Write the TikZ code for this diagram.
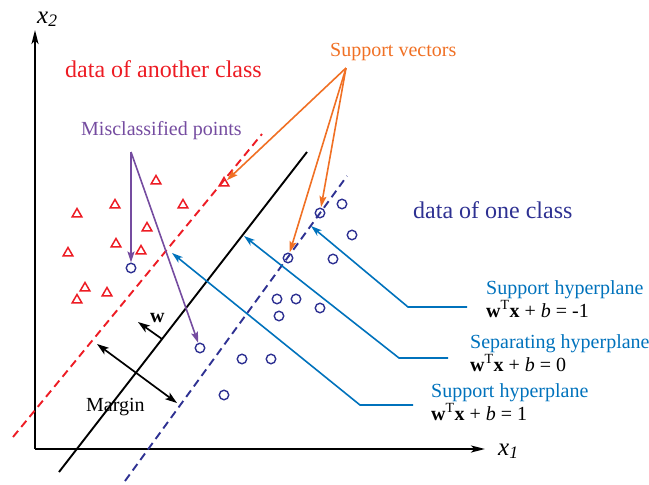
\documentclass[tikz,border=0pt]{standalone}
\usepackage{fontspec}
\setmainfont{Liberation Serif}
\usetikzlibrary{arrows.meta,shapes.geometric}
\definecolor{myred}{RGB}{237,28,36}
\definecolor{mydblue}{RGB}{46,49,146}
\definecolor{mylblue}{RGB}{0,114,188}
\definecolor{myorange}{RGB}{240,112,36}
\definecolor{mypurple}{RGB}{117,76,160}
\begin{document}
\begin{tikzpicture}[x=1pt,y=-1pt,
  txt/.style={inner sep=0pt, anchor=base west, font=\fontsize{20}{24}\selectfont},
  bigtxt/.style={inner sep=0pt, anchor=base west, font=\fontsize{24}{28}\selectfont},
  axlab/.style={inner sep=0pt, anchor=base west, font=\fontsize{25}{30}\selectfont},
  tri/.style={draw=myred, line width=1.5pt, regular polygon, regular polygon sides=3, minimum size=11pt, inner sep=0pt},
  circ/.style={draw=mydblue, line width=1.4pt, circle, minimum size=9.5pt, inner sep=0pt},
  axis/.style={line width=2.2pt, -{Stealth[length=14pt,width=7pt,inset=3.5pt]}},
  hplane/.style={line width=1.9pt},
  dashline/.style={line width=1.9pt, dash pattern=on 8pt off 5pt},
  sv/.style={myorange, line width=1.6pt, -{Stealth[length=11pt,width=7pt,inset=2pt]}, shorten >=0.5pt},
  mis/.style={mypurple, line width=1.6pt, -{Stealth[length=11pt,width=7pt,inset=2pt]}},
  lead/.style={mylblue, line width=1.6pt, -{Stealth[length=11pt,width=7pt,inset=3pt]}},
  blk/.style={black, line width=1.7pt, -{Stealth[length=12pt,width=8pt,inset=3pt]}},
  blkboth/.style={black, line width=1.7pt, {Stealth[length=12pt,width=8pt,inset=3pt]}-{Stealth[length=12pt,width=8pt,inset=3pt]}}
]
\useasboundingbox (0,0) rectangle (649,485);

% axes
\coordinate (o) at (35,449);
\coordinate (ytop) at (35,30);
\coordinate (xend) at (485,449);
\draw[axis] (o) -- (ytop);
\draw[axis] (o) -- (xend);
\node[axlab] (x2lab) at (37,23) {\textit{x}\textsubscript{\textit{2}}};
\node[axlab] (x1lab) at (498,455) {\textit{x}\textsubscript{\textit{1}}};

% hyperplanes
\coordinate (r1) at (13,437);
\coordinate (r2) at (262,134);
\coordinate (k1) at (59,472);
\coordinate (k2) at (307,152);
\coordinate (b1) at (125,481);
\coordinate (b2) at (347,176);
\draw[dashline, myred] (r1) -- (r2);
\draw[hplane, black] (k1) -- (k2);
\draw[dashline, mydblue] (b1) -- (b2);

% triangles
\node[tri] (t1) at (77,214) {};
\node[tri] (t2) at (115,205) {};
\node[tri] (t3) at (156,181) {};
\node[tri] (t4) at (183,205) {};
\node[tri] (t5) at (224,183) {};
\node[tri] (t6) at (147,228) {};
\node[tri] (t7) at (68,253) {};
\node[tri] (t8) at (116,244) {};
\node[tri] (t9) at (141,251) {};
\node[tri] (t10) at (85,288) {};
\node[tri] (t11) at (107,293) {};
\node[tri] (t12) at (77,300) {};

% circles
\node[circ] (c1) at (131,268) {};
\node[circ] (c2) at (200,348) {};
\node[circ] (c3) at (320,213) {};
\node[circ] (c4) at (342,204) {};
\node[circ] (c5) at (352,235) {};
\node[circ] (c6) at (288,258) {};
\node[circ] (c7) at (333,259) {};
\node[circ] (c8) at (277,299) {};
\node[circ] (c9) at (296,299) {};
\node[circ] (c10) at (320,308) {};
\node[circ] (c11) at (279,316) {};
\node[circ] (c12) at (242,359) {};
\node[circ] (c13) at (271,359) {};
\node[circ] (c14) at (224,395) {};

% labels
\node[bigtxt, text=myred] (another) at (65,77) {data of another class};
\node[bigtxt, text=mydblue] (one) at (413,218) {data of one class};
\node[txt, text=myorange] (svlab) at (330,56) {Support vectors};
\node[txt, text=mypurple] (mislab) at (81,135) {Misclassified points};
\node[txt, text=mylblue] (sh1) at (486,294) {Support hyperplane};
\node[txt, text=black] (eq1) at (486,317) {{\bfseries w}\textsuperscript{T}{\bfseries x} + \textit{b} = -1};
\node[txt, text=mylblue] (seph) at (470,348) {Separating hyperplane};
\node[txt, text=black] (eq2) at (470,371) {{\bfseries w}\textsuperscript{T}{\bfseries x} + \textit{b} = 0};
\node[txt, text=mylblue] (sh2) at (431,397) {Support hyperplane};
\node[txt, text=black] (eq3) at (431,420) {{\bfseries w}\textsuperscript{T}{\bfseries x} + \textit{b} = 1};
\node[txt, text=black] (margin) at (86,411) {Margin};
\node[txt, text=black] (wlab) at (150,322) {\bfseries w};

% support vector arrows
\coordinate (svs) at (346,68);
\draw[sv] (svs) -- (t5);
\draw[sv] (svs) -- (c6);
\draw[sv] (svs) -- (c3);

% misclassified arrows
\coordinate (mps) at (131,152);
\draw[mis] (mps) -- (c1);
\draw[mis] (mps) -- (c2);

% leader lines
\coordinate (h1s) at (467,307);
\coordinate (h1b) at (408,307);
\coordinate (h1t) at (311,226);
\coordinate (h2s) at (448,358);
\coordinate (h2b) at (399,358);
\coordinate (h2t) at (244,236);
\coordinate (h3s) at (413,405);
\coordinate (h3b) at (360,405);
\coordinate (h3t) at (172,253);
\draw[lead] (h1s) -- (h1b) -- (h1t);
\draw[lead] (h2s) -- (h2b) -- (h2t);
\draw[lead] (h3s) -- (h3b) -- (h3t);

% w and margin arrows
\coordinate (w1) at (162,339);
\coordinate (w2) at (138,322);
\draw[blk] (w1) -- (w2);
\coordinate (m1) at (97,344);
\coordinate (m2) at (177,403);
\draw[blkboth] (m1) -- (m2);
\end{tikzpicture}
\end{document}
